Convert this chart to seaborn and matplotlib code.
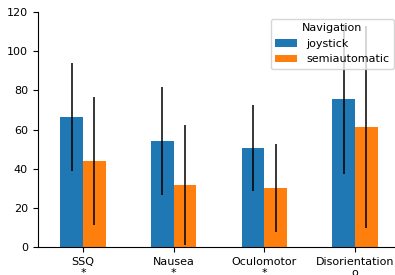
import numpy as np
import pandas as pd
import matplotlib
matplotlib.use("Agg")
import matplotlib.pyplot as plt
import seaborn as sns

categories = ["SSQ\n*", "Nausea\n*", "Oculomotor\n*", "Disorientation\no"]
groups = ["joystick", "semiautomatic"]
joystick_mean = [66.4, 54.1, 50.7, 75.6]
joystick_err = [27.6, 27.7, 22.0, 38.5]
semi_mean = [43.9, 31.7, 30.1, 61.3]
semi_err = [32.7, 30.5, 22.7, 51.4]
colors = ["#1f77b4", "#ff7f0e"]

df = pd.DataFrame({
    "cat": categories * 2,
    "Navigation": [groups[0]] * 4 + [groups[1]] * 4,
    "val": joystick_mean + semi_mean,
})
errs = [joystick_err, semi_err]

plt.rcParams["font.size"] = 8
fig = plt.figure(figsize=(3.95, 2.75), dpi=100)
ax = fig.add_axes([0.0955, 0.102, 0.918, 0.854])

sns.barplot(data=df, x="cat", y="val", hue="Navigation", order=categories,
            hue_order=groups, palette=colors, saturation=1, width=0.5,
            errorbar=None, ax=ax)

for cont, e in zip(ax.containers, errs):
    xs = [p.get_x() + p.get_width() / 2 for p in cont]
    hs = [p.get_height() for p in cont]
    ax.errorbar(xs, hs, yerr=e, fmt="none", ecolor="black", elinewidth=1.1,
                capsize=0, zorder=3)

ax.set_xlim(-0.5, 3.5)
ax.set_ylim(0, 120)
ax.set_xlabel("")
ax.set_ylabel("")
ax.set_yticks([0, 20, 40, 60, 80, 100, 120])
ax.tick_params(labelsize=8)
sns.despine(ax=ax)
leg = ax.legend(title="Navigation", loc="upper right", fontsize=8, title_fontsize=8,
                borderaxespad=0.6)

fig.savefig("out.png", dpi=100)
